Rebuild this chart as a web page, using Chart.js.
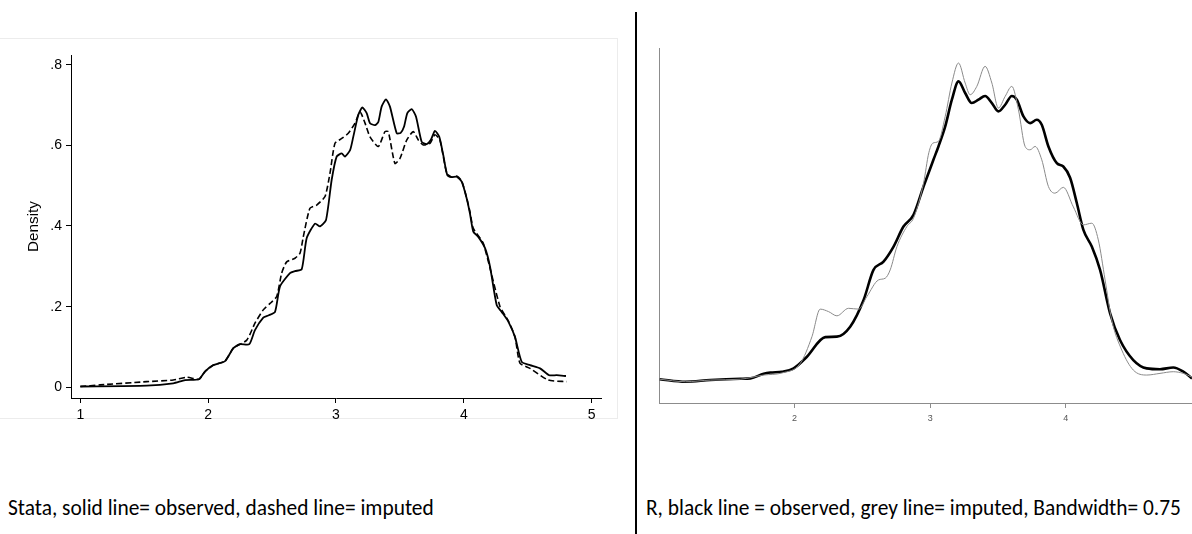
<!DOCTYPE html>
<html>
<head>
<meta charset="utf-8">
<script src="https://cdn.jsdelivr.net/npm/chart.js@4/dist/chart.umd.min.js"></script>
<style>
  body { margin: 0; background: #fff; }
  #page { position: relative; width: 1192px; height: 534px; overflow: hidden; background: #fff; }
  #stataBox { position: absolute; left: 0; top: 0; width: 612px; height: 440px; }
  #rBox { position: absolute; left: 640px; top: 0; width: 552px; height: 440px; }
  #frame { position: absolute; left: -1px; top: 38px; width: 617px; height: 379px; border: 1px solid #ececec; }
  #divider { position: absolute; left: 635px; top: 12px; width: 2px; height: 522px; background: #000; }
  .caption { position: absolute; top: 495px; font-family: Carlito, Calibri, Lato, sans-serif; font-size: 21.4px; line-height: 26px; color: #000; white-space: nowrap; }
</style>
</head>
<body>
<div id="page">
  <div id="frame"></div>
  <div id="stataBox"><canvas id="stata"></canvas></div>
  <div id="divider"></div>
  <div id="rBox"><canvas id="rplot"></canvas></div>
  <div class="caption" style="left:8px">Stata, solid line= observed, dashed line= imputed</div>
  <div class="caption" style="left:646px">R, black line = observed, grey line= imputed, Bandwidth= 0.75</div>
</div>
<script>
// Stata kernel density, observed (solid)
const stataObsX = [1.00, 1.519, 1.727, 1.819, 1.928, 1.975, 2.040, 2.132, 2.197, 2.249, 2.322, 2.366, 2.431, 2.470, 2.523, 2.562, 2.640, 2.679, 2.732, 2.771, 2.836, 2.875, 2.922, 2.966, 3.005, 3.045, 3.070, 3.110, 3.135, 3.174, 3.206, 3.240, 3.266, 3.305, 3.331, 3.357, 3.391, 3.422, 3.475, 3.506, 3.532, 3.558, 3.592, 3.626, 3.670, 3.709, 3.741, 3.774, 3.808, 3.839, 3.871, 3.905, 3.944, 3.983, 4.022, 4.048, 4.074, 4.113, 4.166, 4.205, 4.257, 4.296, 4.348, 4.400, 4.453, 4.518, 4.596, 4.668, 4.726, 4.799];
const stataObsY = [0.002, 0.004, 0.010, 0.018, 0.020, 0.039, 0.055, 0.065, 0.097, 0.107, 0.107, 0.142, 0.173, 0.178, 0.187, 0.250, 0.283, 0.288, 0.293, 0.370, 0.406, 0.399, 0.415, 0.514, 0.572, 0.580, 0.572, 0.588, 0.621, 0.675, 0.694, 0.680, 0.655, 0.650, 0.658, 0.696, 0.714, 0.696, 0.630, 0.631, 0.646, 0.680, 0.690, 0.671, 0.609, 0.603, 0.613, 0.636, 0.621, 0.576, 0.526, 0.521, 0.522, 0.510, 0.469, 0.431, 0.386, 0.373, 0.345, 0.299, 0.204, 0.187, 0.163, 0.125, 0.063, 0.055, 0.047, 0.030, 0.030, 0.028];

// Stata, imputed (dashed)
const stataImpX = [1.00, 1.154, 1.519, 1.727, 1.832, 1.928, 1.975, 2.040, 2.132, 2.197, 2.302, 2.366, 2.431, 2.484, 2.536, 2.575, 2.614, 2.679, 2.719, 2.744, 2.796, 2.849, 2.914, 2.953, 2.992, 3.045, 3.096, 3.149, 3.188, 3.227, 3.266, 3.331, 3.383, 3.409, 3.461, 3.501, 3.553, 3.605, 3.644, 3.683, 3.735, 3.774, 3.813, 3.866, 3.905, 3.944, 3.983, 4.022, 4.048, 4.074, 4.152, 4.283, 4.348, 4.400, 4.439, 4.518, 4.661, 4.804];
const stataImpY = [0.002, 0.006, 0.014, 0.018, 0.025, 0.020, 0.039, 0.055, 0.065, 0.097, 0.117, 0.159, 0.192, 0.208, 0.225, 0.283, 0.311, 0.320, 0.333, 0.373, 0.444, 0.452, 0.473, 0.531, 0.605, 0.617, 0.630, 0.655, 0.683, 0.655, 0.621, 0.597, 0.634, 0.634, 0.555, 0.568, 0.613, 0.634, 0.613, 0.601, 0.605, 0.626, 0.613, 0.531, 0.521, 0.524, 0.512, 0.470, 0.435, 0.394, 0.357, 0.200, 0.165, 0.125, 0.060, 0.047, 0.018, 0.014];

// R density, observed (black) and imputed (grey)
const rObsX = [1.005, 1.195, 1.379, 1.600, 1.674, 1.772, 1.821, 1.907, 1.993, 2.091, 2.226, 2.312, 2.410, 2.509, 2.582, 2.656, 2.730, 2.803, 2.877, 2.951, 3.024, 3.061, 3.111, 3.160, 3.209, 3.258, 3.307, 3.356, 3.405, 3.455, 3.503, 3.553, 3.602, 3.639, 3.688, 3.737, 3.786, 3.823, 3.872, 3.934, 3.982, 4.032, 4.081, 4.130, 4.192, 4.253, 4.327, 4.400, 4.498, 4.597, 4.695, 4.793, 4.867, 4.931];
const rObsY = [0.057, 0.051, 0.055, 0.058, 0.059, 0.070, 0.073, 0.075, 0.083, 0.111, 0.158, 0.159, 0.183, 0.247, 0.319, 0.339, 0.375, 0.423, 0.451, 0.519, 0.583, 0.615, 0.663, 0.727, 0.771, 0.743, 0.719, 0.727, 0.736, 0.719, 0.699, 0.715, 0.736, 0.727, 0.687, 0.671, 0.679, 0.667, 0.615, 0.575, 0.567, 0.540, 0.480, 0.415, 0.375, 0.319, 0.215, 0.151, 0.103, 0.083, 0.081, 0.085, 0.075, 0.059];
const rImpX = [1.005, 1.195, 1.379, 1.600, 1.772, 1.907, 2.042, 2.128, 2.189, 2.251, 2.312, 2.398, 2.472, 2.533, 2.619, 2.668, 2.705, 2.755, 2.828, 2.877, 2.951, 2.990, 3.020, 3.060, 3.111, 3.160, 3.209, 3.258, 3.295, 3.344, 3.405, 3.455, 3.503, 3.553, 3.602, 3.651, 3.700, 3.737, 3.774, 3.823, 3.872, 3.921, 3.982, 4.056, 4.130, 4.192, 4.240, 4.290, 4.339, 4.413, 4.498, 4.597, 4.695, 4.793, 4.867, 4.931];
const rImpY = [0.057, 0.051, 0.055, 0.057, 0.067, 0.072, 0.095, 0.159, 0.225, 0.219, 0.209, 0.227, 0.225, 0.255, 0.295, 0.299, 0.319, 0.375, 0.423, 0.443, 0.527, 0.600, 0.623, 0.627, 0.687, 0.767, 0.815, 0.767, 0.739, 0.759, 0.807, 0.767, 0.707, 0.735, 0.759, 0.703, 0.615, 0.607, 0.615, 0.583, 0.519, 0.503, 0.517, 0.470, 0.427, 0.431, 0.391, 0.295, 0.199, 0.127, 0.079, 0.067, 0.071, 0.075, 0.071, 0.062];

const stataXTicks = [1, 2, 3, 4, 5];
const stataYTicks = [0, 0.2, 0.4, 0.6, 0.8];
const rXTicks = [2, 3, 4];

function pts(xs, ys) {
  return xs.map((x, i) => ({ x: x, y: ys[i] }));
}

const stataFont = { family: "'Liberation Sans', Arial, sans-serif", size: 14 };

new Chart(document.getElementById("stata"), {
  type: "line",
  data: {
    datasets: [
      {
        data: pts(stataImpX, stataImpY),
        borderColor: "#000",
        borderWidth: 1.6,
        borderDash: [6, 3],
        pointRadius: 0,
        tension: 0.2,
      },
      {
        data: pts(stataObsX, stataObsY),
        borderColor: "#000",
        borderWidth: 1.8,
        pointRadius: 0,
        tension: 0.2,
      },
    ],
  },
  options: {
    responsive: true,
    maintainAspectRatio: false,
    animation: false,
    layout: { padding: { left: 0, top: 55, right: 11, bottom: 0 } },
    plugins: { legend: { display: false }, tooltip: { enabled: false } },
    scales: {
      x: {
        type: "linear",
        min: 0.927,
        max: 5.073,
        afterBuildTicks: (s) => { s.ticks = stataXTicks.map((v) => ({ value: v })); },
        afterFit: (s) => { s.height = 42; },
        grid: { display: true, drawOnChartArea: false, drawTicks: true, tickLength: 5, color: "#000" },
        border: { display: true, color: "#000", width: 1 },
        ticks: { color: "#000", font: stataFont, padding: 4, maxRotation: 0 },
      },
      y: {
        type: "linear",
        min: -0.0265,
        max: 0.824,
        afterBuildTicks: (s) => { s.ticks = stataYTicks.map((v) => ({ value: v })); },
        afterFit: (s) => { s.width = 71; },
        grid: { display: true, drawOnChartArea: false, drawTicks: true, tickLength: 5, color: "#000" },
        border: { display: true, color: "#000", width: 1 },
        ticks: {
          color: "#000",
          font: stataFont,
          padding: 4,
          callback: (v) => (v === 0 ? "0" : v.toFixed(1).replace(/^0/, "")),
        },
        title: {
          display: true,
          text: "Density",
          color: "#000",
          font: { family: "'Liberation Sans', Arial, sans-serif", size: 15.3 },
          padding: { top: 25, bottom: 0 },
        },
      },
    },
  },
});

new Chart(document.getElementById("rplot"), {
  type: "line",
  data: {
    datasets: [
      {
        data: pts(rImpX, rImpY),
        borderColor: "#8a8a8a",
        borderWidth: 1,
        pointRadius: 0,
        tension: 0.4,
        cubicInterpolationMode: "monotone",
      },
      {
        data: pts(rObsX, rObsY),
        borderColor: "#000",
        borderWidth: 2.6,
        pointRadius: 0,
        tension: 0.4,
        cubicInterpolationMode: "monotone",
      },
    ],
  },
  options: {
    responsive: true,
    maintainAspectRatio: false,
    animation: false,
    layout: { padding: { left: 0, top: 48, right: 0, bottom: 0 } },
    plugins: { legend: { display: false }, tooltip: { enabled: false } },
    scales: {
      x: {
        type: "linear",
        min: 1.0,
        max: 4.931,
        afterBuildTicks: (s) => { s.ticks = rXTicks.map((v) => ({ value: v })); },
        afterFit: (s) => { s.height = 37; },
        grid: { display: true, drawOnChartArea: false, drawTicks: true, tickLength: 5, color: "#8c8c8c" },
        border: { display: true, color: "#8c8c8c", width: 1 },
        ticks: { color: "#555", font: { family: "'Liberation Sans', Arial, sans-serif", size: 9 }, padding: 5, maxRotation: 0 },
      },
      y: {
        type: "linear",
        min: 0,
        max: 0.851,
        afterFit: (s) => { s.width = 19; },
        grid: { display: false },
        border: { display: true, color: "#8c8c8c", width: 1 },
        ticks: { display: false },
      },
    },
  },
});
</script>
</body>
</html>
